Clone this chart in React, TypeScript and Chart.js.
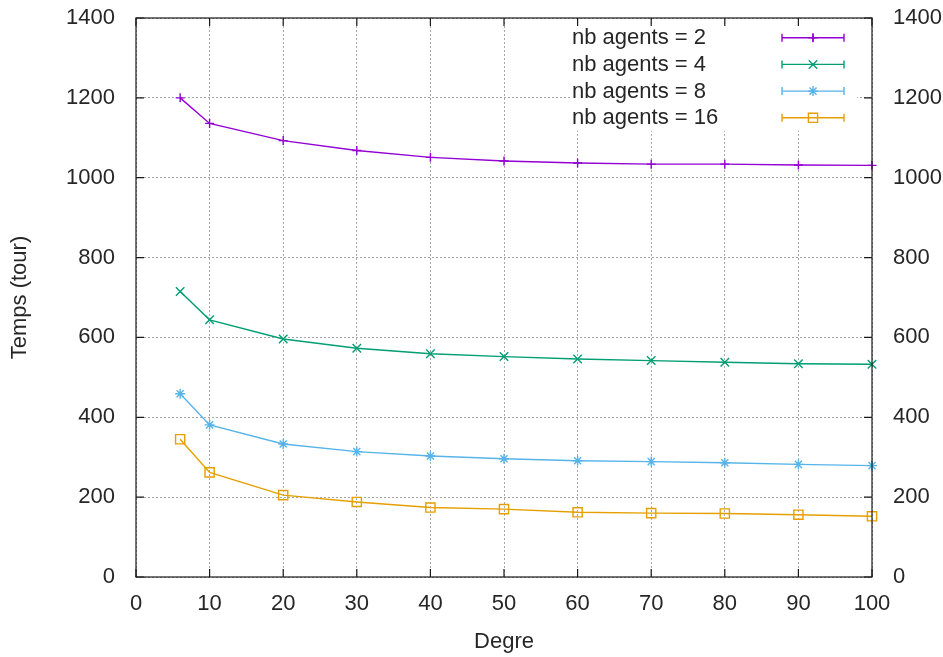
import React, { useEffect, useRef } from 'react';
import { Chart, registerables } from 'chart.js';

Chart.register(...registerables);

// ---- data ----
const degrees = [6, 10, 20, 30, 40, 50, 60, 70, 80, 90, 100];
const agents2 = [1200, 1136, 1093, 1068, 1051, 1042, 1037, 1034, 1034, 1032, 1031];
const agents4 = [715, 644, 596, 573, 559, 552, 546, 542, 538, 534, 533];
const agents8 = [459, 381, 333, 314, 303, 296, 291, 289, 286, 282, 279];
const agents16 = [345, 262, 205, 188, 174, 170, 162, 160, 159, 156, 152];

const seriesLabels = ['nb agents = 2', 'nb agents = 4', 'nb agents = 8', 'nb agents = 16'];
const seriesValues = [agents2, agents4, agents8, agents16];
const seriesColors = ['#9400d3', '#009e73', '#56b4e9', '#e69f00'];
const seriesMarkers = ['cross', 'crossRot', 'star', 'rect'];
const markerRadii = [4.5, 6, 5, 6.5];

const xTitle = 'Degre';
const yTitle = 'Temps (tour)';
const xMin = 0, xMax = 100, xStep = 10;
const yMin = 0, yMax = 1400, yStep = 200;

const FONT = '"Liberation Sans", Arial, sans-serif';
const FS = 22;
const TEXT = '#262626';
const GRID = '#a8a8a8';
const GRID_DASH = [2, 2];

function drawMarker(ctx: CanvasRenderingContext2D, style: string, x: number, y: number, r: number) {
  ctx.beginPath();
  const d = r * Math.SQRT1_2;
  if (style === 'cross' || style === 'star') {
    ctx.moveTo(x - r, y); ctx.lineTo(x + r, y);
    ctx.moveTo(x, y - r); ctx.lineTo(x, y + r);
  }
  if (style === 'crossRot' || style === 'star') {
    ctx.moveTo(x - d, y - d); ctx.lineTo(x + d, y + d);
    ctx.moveTo(x - d, y + d); ctx.lineTo(x + d, y - d);
  }
  if (style === 'rect') {
    ctx.rect(x - d, y - d, 2 * d, 2 * d);
  }
  ctx.stroke();
}

const gnuplotPlugin = {
  id: 'gnuplotPlugin',
  beforeDatasetsDraw(chart: any) {
    const { ctx, chartArea } = chart;
    ctx.save();
    ctx.fillStyle = '#ffffff';
    ctx.fillRect(chartArea.right - 302, chartArea.top + 7, 287, 106);
    ctx.restore();
  },
  afterDatasetsDraw(chart: any) {
    const { ctx, chartArea, scales } = chart;
    const { left, right, top, bottom } = chartArea;
    ctx.save();
    ctx.strokeStyle = '#1a1a1a';
    ctx.lineWidth = 1.2;
    ctx.strokeRect(left, top, right - left, bottom - top);
    const tl = 8;
    ctx.beginPath();
    for (let v = xMin; v <= xMax; v += xStep) {
      const px = scales.x.getPixelForValue(v);
      ctx.moveTo(px, bottom); ctx.lineTo(px, bottom - tl);
      ctx.moveTo(px, top); ctx.lineTo(px, top + tl);
    }
    for (let v = yMin; v <= yMax; v += yStep) {
      const py = scales.y.getPixelForValue(v);
      ctx.moveTo(left, py); ctx.lineTo(left + tl, py);
      ctx.moveTo(right, py); ctx.lineTo(right - tl, py);
    }
    ctx.stroke();

    // legend (gnuplot key)
    const textX = right - 300;
    const lineX1 = right - 90;
    const lineX2 = right - 28;
    ctx.font = `${FS}px ${FONT}`;
    ctx.textAlign = 'left';
    ctx.textBaseline = 'alphabetic';
    seriesLabels.forEach((label, i) => {
      const ly = top + 19.7 + i * 26.7;
      ctx.fillStyle = TEXT;
      ctx.fillText(label, textX, ly + 6.5);
      ctx.strokeStyle = seriesColors[i];
      ctx.lineWidth = 1.4;
      ctx.beginPath();
      ctx.moveTo(lineX1, ly); ctx.lineTo(lineX2, ly);
      ctx.moveTo(lineX1, ly - 4); ctx.lineTo(lineX1, ly + 4);
      ctx.moveTo(lineX2, ly - 4); ctx.lineTo(lineX2, ly + 4);
      ctx.stroke();
      if (i === 0) {
        ctx.beginPath();
        ctx.moveTo((lineX1 + lineX2) / 2, ly - 4); ctx.lineTo((lineX1 + lineX2) / 2, ly + 4);
        ctx.stroke();
      }
      drawMarker(ctx, seriesMarkers[i], (lineX1 + lineX2) / 2, ly, markerRadii[i]);
    });
    ctx.restore();
  },
};

const plainTick = (v: any) => String(v);
const CLEAR = 'rgba(0,0,0,0)';

export default function App() {
  const canvasRef = useRef<HTMLCanvasElement | null>(null);

  useEffect(() => {
    document.body.style.margin = '0';
    const canvas = canvasRef.current;
    if (!canvas) return;
    const chart = new Chart(canvas, {
      type: 'line',
      data: {
        datasets: seriesValues.map((vals, i) => ({
          label: seriesLabels[i],
          data: vals.map((v, j) => ({ x: degrees[j], y: v })),
          borderColor: seriesColors[i],
          backgroundColor: CLEAR,
          borderWidth: 1.4,
          pointStyle: seriesMarkers[i] as any,
          pointRadius: markerRadii[i],
          pointBorderWidth: 1.4,
          pointBorderColor: seriesColors[i],
          pointBackgroundColor: CLEAR,
          tension: 0,
          fill: false,
          clip: false as any,
          yAxisID: 'y',
        })),
      },
      options: {
        responsive: false,
        animation: false,
        devicePixelRatio: 1,
        layout: { padding: { top: 18, left: 0, right: 0, bottom: 0 } },
        plugins: {
          legend: { display: false },
          tooltip: { enabled: false },
          title: { display: false },
        },
        scales: {
          x: {
            type: 'linear',
            position: 'bottom',
            min: xMin,
            max: xMax,
            afterFit: (s: any) => { s.height = 80; },
            ticks: {
              stepSize: xStep,
              maxRotation: 0,
              padding: 14,
              color: TEXT,
              font: { family: FONT, size: FS },
              callback: plainTick,
            },
            grid: { color: GRID, lineWidth: 1, drawTicks: false },
            border: { display: false, dash: GRID_DASH },
            title: {
              display: true,
              text: xTitle,
              color: TEXT,
              font: { family: FONT, size: FS },
              padding: { top: 0, bottom: 2 },
            },
          },
          y: {
            type: 'linear',
            position: 'left',
            min: yMin,
            max: yMax,
            afterFit: (s: any) => { s.width = 136; },
            ticks: {
              stepSize: yStep,
              padding: 0,
              color: TEXT,
              font: { family: FONT, size: FS },
              callback: plainTick,
            },
            grid: { color: GRID, lineWidth: 1, drawTicks: true, tickLength: 21, tickColor: CLEAR },
            border: { display: false, dash: GRID_DASH },
            title: {
              display: true,
              text: yTitle,
              color: TEXT,
              font: { family: FONT, size: FS },
              padding: { top: 7, bottom: 0 },
            },
          },
          y2: {
            type: 'linear',
            position: 'right',
            min: yMin,
            max: yMax,
            afterFit: (s: any) => { s.width = 71; },
            ticks: {
              stepSize: yStep,
              padding: 0,
              color: TEXT,
              font: { family: FONT, size: FS },
              callback: plainTick,
            },
            grid: { drawOnChartArea: false, drawTicks: true, tickLength: 21, tickColor: CLEAR },
            border: { display: false },
          },
        },
      },
      plugins: [gnuplotPlugin],
    });
    return () => chart.destroy();
  }, []);

  return <canvas ref={canvasRef} width={943} height={657} style={{ display: 'block' }} />;
}
